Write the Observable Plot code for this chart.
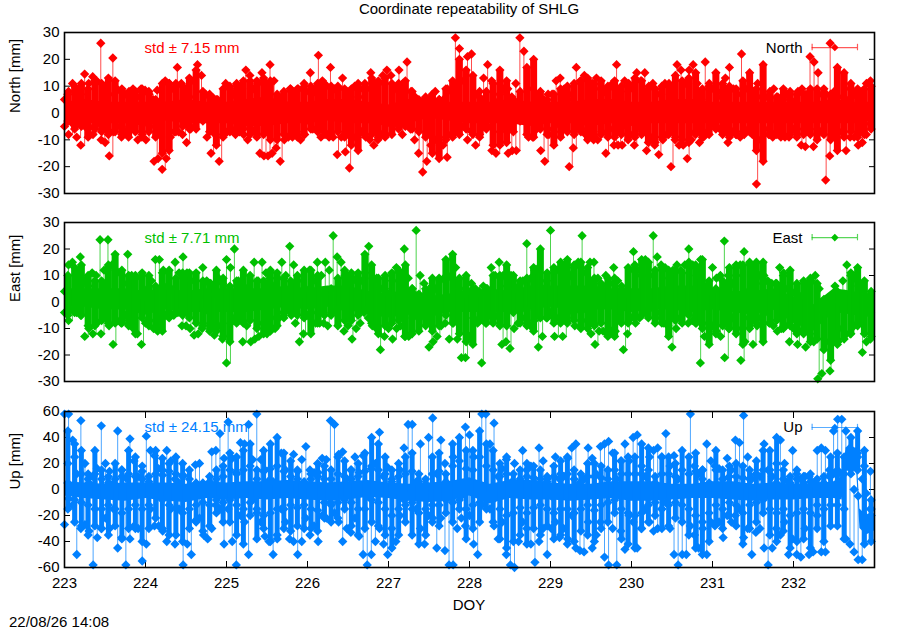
<!DOCTYPE html>
<html><head><meta charset="utf-8">
<script src="https://cdn.jsdelivr.net/npm/d3@7"></script>
<script src="https://cdn.jsdelivr.net/npm/@observablehq/plot@0.6"></script>
<style>
html,body{margin:0;padding:0;background:#fff}
#page{position:relative;width:900px;height:630px;font-family:"Liberation Sans",sans-serif;color:#000;overflow:hidden}
#page svg{position:absolute;left:0;background:transparent;font-family:"Liberation Sans",sans-serif}
.t{position:absolute;font-size:15px;line-height:16px;white-space:nowrap}
</style></head><body>
<div id="page">
<div class="t" style="left:0;width:938px;top:1px;text-align:center">Coordinate repeatability of SHLG</div>
<div class="t" style="left:0;width:938px;top:597px;text-align:center">DOY</div>
<div class="t" style="left:9px;top:614px">22/08/26 14:08</div>
</div>
<script>
const northHi=[5,8,11,9,7,14.5,11,13.5,12,26,10,7,20.5,9,8,7,8,9,6,9,8.5,7,5,8.5,4,12,11,9,17,11,9,6,12,18,14,7,7,5.5,5,4,11,9,7,8,9,16,14,9,11,15,11,18,12,6,5,3,9,7,9,9,8,15,8,21.5,12,10,17,9,9,13,8,3,10,6,9,9,15,11,11,14,16,14,9,16,11,19,8,6,3,3,5,6,8,5,5,9,8,28,24,12,21,
22,7,8,13,18,12,4,7,9,9,6,11,28,23,9,3,5,6,5,7,7,12,13,9,5,7,17,12,14,12,11,13,9,8,9,11,18,8,12,11,9,15,12,15,10,11,7,7,11,11,10,18,16,11,16,18,11,5,19,11,9,8,6,13,17,9,7,22,9,1,8,11,6,6,6,9,6,6,7,5,4,8,9,7,21,19,15,7,7,26,8,6,3,5,9,7,6,8,11,12];
const northLo=[-5,-8,-4,-9,-12,-5,-5,-8,-4,-10,-11,-16,-7,-5,-9,-7,-5,-5,-10,-9,-10,-5,-18,-17,-21,-17,-9,-7,-7,-8,-11,-6,-5,-2,-3,-9,-15,-8,-18,-8,-7,-6,-8,-7,-8,-10,-7,-6,-15,-16,-16,-15,-13,-18,-10,-9,-9,-7,-10,-8,-3,-6,-6,-9,-8,-9,-9,-15.5,-9,-14.5,-20.5,-9,-9,-7,-9,-10,-12,-10,-8,-8,-4,-4,-3,-8,-4,-6,-10,-15,-22,-18,-12,-10,-9,-12,-16.5,-8,-3,-3,-5,-10,
-7,-12,-8,-5,-5,-14,-15,-7,-5,-15,-14,-14,-1,-1,-9,-9,-6,-14,-18,-8,-6,-4,-7,-6,-20,-13,-5,-6,-8,-4,-10,-10,-7,-15,-6,-12,-12,-12,-5,-8,-12,-5,-7,-14,-9,-12,-15.5,-10,-8,-20,-10,-12,-12,-17,-10,-7,-11,-9,-7,-4,-5,-6,-6,-11,-7,-8,-9,-8,-6,-8,-26.5,-10,-6,-8,-9,-8,-9,-9,-9,-6,-6,-12,-12.5,-6,-12.5,-6,-7,-25,-16,-8,-7,-7,-14,-9,-9,-12,-11,-8,-4];
const northUpper=[7,10,11,9,12,11,13,12,9,7,8,9, 8,5,11,11,11,10,13,16,8,6,5,9, 10,11,12,12,12,13,12,7,8,9,9,11, 10,11,11,10,10,9,9,11,11,13,12,13, 11,11,12,8,5,6,7,5,9,12,20,16, 14,6,8,11,16,12,5,8,17,20,8,5, 7,9,10,11,12,13,11,12,10,12,10,10, 13,12,9,9,10,10,14,12,13,15,9,10, 15,11,10,9,12,15,9,18,8,6,9,8, 7,7,9,9,9,7,17,15,11,9,9,10];
const northLower=[-3,-6,-5,-9,-6,-7,-8,-7,-8,-9,-7,-8, -7,-9,-15,-14,-7,-5,-6,-6,-2,-7,-12,-9, -7,-6,-6,-8,-9,-8,-10,-10,-8,-8,-9,-8, -6,-7,-7,-8,-7,-9,-12,-14,-8,-8,-9,-9, -8,-6,-5,-6,-7,-9,-15,-17,-10,-9,-8,-6, -8,-9,-6,-12,-12,-11,-7,-3,-8,-9,-6,-8, -12,-9,-7,-8,-7,-10,-9,-8,-9,-9,-8,-10, -9,-8,-11,-11,-9,-8,-9,-10,-11,-8,-9,-8, -6,-8,-9,-8,-7,-7,-14,-18,-8,-7,-8,-8, -9,-8,-8,-10,-8,-10,-14,-9,-7,-9,-8,-6];
const northCoreHi=[4,5,4,4,4,4,5,4,4,5,6,4,4,5,5,4,3,5,6,4,4,4,5,4,4,4,5,5,4,4,5,5,4,4,4,4,4,4,5,4,4];
const northCoreLo=[-3,-4,-4,-4,-5,-3,-4,-4,-4,-5,-5,-4,-4,-3,-4,-4,-5,-4,-2,-3,-4,-4,-4,-5,-4,-4,-5,-4,-5,-4,-4,-4,-4,-4,-4,-4,-4,-4,-4,-4,-3];

const eastHi=[4,14,15,10,17,8,6,11,10,23.5,12,23.5,14,12,11,7,18,10,9,3,2,5,8,16,16,12,6,5,15,11,17,11,8,8,2,13,8,7,3,9,7,16,13,20,8,6,5,3,15,8,15,11,9,6,9,15,10,21,14,8,3,5,12,8,15,10,15,12,25,17,15,10,7,8,9,8,11,21,9,9,5,5,3,8,13,10,20,9,5,27,10,7,4,6,5,8,9,10,9,13,5,3,
4,7,5,4,6,5,13,10,15,10,6,10,5,6,8,22,9,12,13,5,8,27,12,12,12,9,10,13,15,25,11,15,15,9,6,10,7,13,8,6,3,12,19,12,10,16,10,25,17,14,13,9,12,14,12,14,20,14,10,16,6,4,13,9,10,23,10,7,10,14,19,4,5,7,10,10,8,7,7,13,11,5,4,3,2,3,7,8,10,5,-4,-2,0,6,0,8,14,10,9,6,5,2,-4];
const eastLo=[-4,-7,-3,-4,-5,-13,-10,-12,-8,-12,-5,-9,-16,-7,-8,-5,-7,-10,-12,-16,-8,-7,-10,-11,-6,-5,-4,-5,-4,-9,-9,-10,-12.5,-12,-10,-3,-8,-12.5,-9,-14,-23,-8,-6,-5,-15,-9,-15,-14,-13,-8,-12,-6,-10,-6,-4,-3,-5,-8,-15,-12,-5,-4,-8,-8,-8,-9,-4,-3,-2,-11,-9,-14,-10,-8,-4,-6,-9,-10,-18,-13,-10,-14,-10,-9,-13,-13,-6,-5,-3,-6,-17,-15,-13,-9,-8,-14,-8,-14,-21,
-21,-13,-6,-8,-23,-8,-5,-6,-5,-16,-15,-17.5,-10,-8,-6,-3,-9,-7,-17,-13,-6,-4,-13,-6,-13,-6,-3,-9,-3,-3,-7,-12,-16,-11,-11,-12,-11,-11,-6,-18,-12,-6,-8,-6,-4,-3,-2,-6,-4,-8,-9,-17,-10,-6,-4,-8,-7,-8,-23,-13,-8,-9,-11,-13,-21,-10,-6,-10,-22,-15,-6,-16,-9,-6,-4,-8,-9,-11,-10,-9,-15,-10,-16,-11,-17,-12,-15,-29,-27,-15,-26,-12,-15,-10,-12,-12,-9,-8,-19,-15,-14];
const eastUpper=[10,13,14,10,8,8,14,18,12,10,10,11, 10,6,11,12,9,11,11,11,8,7,12,9, 6,8,12,10,8,8,12,11,9,8,10,12, 12,10,3,5,9,12,11,11,18,14,9,10, 11,12,14,5,3,5,9,9,16,18,9,10, 5,3,5,10,10,14,10,8,9,13,20,11, 13,15,16,14,15,13,9,7,9,9,5,13, 14,16,15,12,13,12,12,11,15,14,16,8, 5,8,13,14,14,15,15,15,7,7,10,12, 7,8,9,7,1,-3,4,3,11,13,8,4];
const eastLower=[-5,-4,-5,-9,-9,-7,-8,-8,-8,-9,-12,-6, -9,-10,-11,-6,-4,-5,-6,-8,-9,-11,-11,-13, -15,-8,-8,-7,-10,-12,-11,-9,-6,-4,-5,-6, -12,-8,-5,-5,-9,-7,-7,-5,-3,-8,-12,-9, -8,-7,-13,-12,-11,-9,-11,-9,-5,-8,-12,-15, -16,-7,-8,-8,-9,-9,-4,-8,-9,-11,-6,-6, -8,-8,-8,-7,-10,-10,-9,-8,-13,-13,-8,-8, -6,-5,-6,-8,-8,-13,-7,-8,-5,-8,-10,-16, -12,-9,-10,-12,-16,-10,-8,-15,-8,-7,-10,-9, -12,-12,-15,-14,-18,-22,-16,-14,-12,-9,-12,-13];
const eastCoreHi=[5,5,5,5,4,5,4,5,5,5,5,6,5,6,6,4,3,5,2,3,4,5,4,6,6,6,6,5,5,5,6,6,5,4,4,5,2,-1,5,4,-1];
const eastCoreLo=[-2,-2,-3,-3,-5,-3,-4,-4,-4,-4,-3,-2,-3,-2,-3,-5,-6,-5,-6,-4,-4,-4,-4,-3,-2,-3,-3,-3,-4,-3,-3,-4,-3,-4,-5,-3,-8,-11,-4,-5,-6];

const upHi=[58,58,38,12,53,20,5,10,16,49,20,14,5,45,15,9,39,22,10,18,41,30,26,16,11,30,22,8,5,11,-5,-3,19,20,-2,0,29,30,43,24,52,24,13,36,35,50,23,58,23,15,7,6,4,28,15,5,27,14,23,33,15,13,13,24,23,53,50,27,29,8,15,25,13,26,-5,16,20,44,10,17,6,0,15,32,50,50,6,35,-2,40,55,12,38,20,1,25,2,-5,
48,42,25,0,58,58,35,51,10,16,23,5,20,0,30,15,18,5,32,22,8,-5,25,8,10,24,32,35,5,8,32,24,12,33,35,37,28,8,22,35,22,40,42,12,10,25,30,32,25,43,18,26,8,-5,-2,58,18,12,15,35,22,18,16,8,24,15,38,36,57,25,8,12,10,35,15,10,5,38,20,6,30,12,8,10,10,5,30,32,30,15,45,54,54,45,32,0,-5,8,-3,14];
const upLo=[-27,-7,-12,-50,-30,-27,-32,-58,-37,-30,-22,-30,-15,-45,-37,-58,-38,-28,-30,-55,-42,-15,-28,-28,-32,-40,-15,-42,-15,-58,-42,-50,-24,-22,-35,-38,-30,-12,-15,-42,-15,-40,-58,-20,-25,-50,-8,-15,-25,-36,-40,-50,-38,-15,-25,-38,-40,-50,-40,-22,-35,-28,-40,-20,-22,-10,-18,-25,-40,-30,-33,-22,-36,-50,-58,-50,-40,-30,-42,-50,-30,-40,-20,-8,-5,-10,-15,-30,-42,-20,-22,-45,-22,-47,-58,-58,-30,-22,
-28,-20,-42,-50,-12,-8,-15,-28,-38,-25,-50,-58,-60,-40,-25,-30,-42,-56,-40,-30,-50,-30,-25,-37,-30,-38,-20,-45,-47,-48,-25,-45,-35,-25,-52,-58,-30,-58,-32,-46,-20,-25,-45,-30,-15,-25,-32,-30,-15,-10,-30,-50,-58,-50,-50,-28,-35,-45,-30,-50,-25,-28,-25,-37,-20,-25,-20,-15,-37,-30,-50,-33,-30,-45,-58,-45,-30,-35,-25,-50,-38,-50,-52,-30,-50,-48,-20,-48,-48,10,12,12,12,-38,-42,-48,-54,-54,-28,-15];
const upRingA=[45,35,30,12,30,15,10,20,15,30,25,14, 10,30,24,20,25,20,15,5,5,10,15,18, 28,25,30,35,15,30,35,40,28,22,15,6, 12,20,18,15,25,22,15,20,28,40,35,25, 15,20,25,28,12,8,25,28,12,35,40,30, 30,45,35,30,20,25,12,15,20,18,15,10, 18,22,25,15,12,20,20,18,15,28,22,25, 25,35,32,10,25,25,20,30,25,28,15,5, 30,15,18,20,18,15,22,30,30,40,15,10, 15,10,12,8,10,25,28,25,40,45,30,-8];
const upRingB=[20,25,12,8,12,8,5,8,10,12,10,8, 6,12,15,14,12,10,8,2,2,6,8,10, 15,12,15,18,8,14,16,18,14,10,8,3, 8,10,8,8,12,10,8,10,14,18,15,12, 8,10,12,14,6,4,12,14,6,18,22,16, 15,25,18,15,10,12,6,8,10,9,8,6, 10,12,12,8,6,10,10,9,8,15,12,12, 12,18,15,5,12,12,10,15,12,14,8,2, 15,8,10,10,9,8,11,15,15,20,8,5, 8,5,6,4,5,12,15,12,25,28,18,-15];
const upRingC=[5,-8,-10,-12,-15,-15,-12,-15,-18,-15,-12,-15, -12,-5,-8,-12,-14,-18,-15,-12,-10,-12,-8,-10, -8,-12,-15,-10,-18,-20,-18,-15,-15,-12,-14,-12, -15,-16,-10,-12,-10,-8,-10,-15,-15,-8,-10,-15, -20,-15,-12,-15,-18,-15,-12,-12,-8,-10,-8,-15, -12,-10,-5,-8,-15,-20,-18,-14,-18,-14,-12,-15, -18,-15,-15,-18,-15,-12,-16,-12,-10,-8,-15,-18, -20,-18,-12,-10,-15,-12,-10,-12,-15,-20,-25,-18, -12,-15,-10,-12,-18,-12,-10,-8,-15,-18,-15,-20, -18,-15,-18,-12,-15,-12,-12,-15,12,15,-20,-20];
const upRingD=[-15,-25,-28,-35,-28,-30,-35,-28,-38,-30,-30,-40, -30,-22,-30,-35,-35,-40,-30,-25,-32,-28,-18,-25, -25,-35,-42,-20,-38,-30,-40,-35,-30,-32,-28,-30, -30,-32,-22,-25,-22,-15,-28,-35,-30,-25,-28,-35, -45,-35,-25,-35,-42,-35,-25,-28,-18,-25,-15,-38, -30,-25,-15,-25,-38,-45,-40,-35,-42,-30,-35,-28, -38,-35,-42,-40,-32,-35,-40,-30,-25,-18,-38,-42, -45,-30,-25,-20,-30,-28,-22,-25,-35,-45,-50,-40, -25,-30,-20,-28,-42,-30,-25,-18,-35,-40,-32,-45, -40,-38,-45,-30,-40,-28,-28,-38,22,25,-42,-40];
const upCoreDoy=[223,223.25,223.5,223.75,224,224.25,224.5,224.75,225,225.25,225.5,225.75,226,226.25,226.5,226.75,227,227.25,227.5,227.75,228,228.25,228.5,228.75,229,229.25,229.5,229.75,230,230.25,230.5,230.75,231,231.25,231.5,231.75,232,232.25,232.5,232.6,232.65,232.78,232.82,232.9,233];
const upCoreHi=[6,5,4,5,5,5,4,6,5,6,6,7,6,5,6,7,5,4,5,6,9,4,7,7,5,4,4,6,6,6,4,4,6,6,4,5,4,4,6,10,32,32,-15,-20,-22];
const upCoreLo=[-5,-7,-8,-9,-7,-9,-10,-7,-8,-7,-8,-7,-8,-9,-8,-6,-7,-9,-10,-9,-5,-11,-7,-8,-8,-9,-8,-7,-9,-9,-8,-7,-7,-8,-9,-8,-8,-7,-7,-8,14,14,-30,-35,-32];

const xTicks=[223,224,225,226,227,228,229,230,231,232];
const ticks30=[-30,-20,-10,0,10,20,30];
const ticks60=[-60,-40,-20,0,20,40,60];
const keyDoy=[232.23,232.79];
const keyMid=[232.51];
const R=4.2;

function panel({top,h,bottom,dom,ticks,label,color,hi,lo,rings,stem,coreDoy,coreHi,coreLo,std,name,keyY,capH,symbol,showX,textDy}){
  const cx=coreDoy||coreHi.map((_,i)=>223+i*0.25);
  const core=cx.map((d,i)=>({x:d,a:coreLo[i],b:coreHi[i]}));
  const rows=hi.map((v,i)=>({x:223+i*10/hi.length,y:v,o:lo[Math.floor(i*lo.length/hi.length)]}));
  const lows=lo.map((v,i)=>({x:223+i*10/lo.length,y:v}));
  const ringRows=[];
  rings.forEach((r,k)=>r.forEach((v,i)=>ringRows.push({x:223+(i+.5)/12,y:v,o:rings[Math.min(k+1,rings.length-1)][i]})));
  const marks=[
    Plot.text([std],{frameAnchor:"top-left",dx:80,dy:textDy,textAnchor:"start",fill:color,fontSize:15,lineAnchor:"top"}),
    Plot.text([name],{frameAnchor:"top-right",dx:-72,dy:textDy,textAnchor:"end",fill:"#000",fontSize:15,lineAnchor:"top"}),
    Plot.ruleY([keyY],{x1:keyDoy[0],x2:keyDoy[1],stroke:color,strokeOpacity:.65,strokeWidth:1.2}),
    Plot.ruleX(keyDoy,{y1:keyY-capH,y2:keyY+capH,stroke:color,strokeOpacity:.65,strokeWidth:1.2}),
    Plot.axisY({ticks,anchor:"left",tickSize:-6,tickPadding:11,fontSize:15,label:null,tickFormat:d=>String(d)}),
    Plot.axisY({ticks,anchor:"right",tickSize:-6,tickFormat:()=>"",label:null})
  ];
  if(showX){
    marks.push(
      Plot.axisX({ticks:xTicks,anchor:"bottom",tickSize:-6,tickPadding:16,fontSize:15,label:null,tickFormat:d=>String(d)}),
      Plot.axisX({ticks:xTicks,anchor:"top",tickSize:-6,tickFormat:()=>"",label:null}));
  }
  marks.push(
    Plot.dot(keyMid,{x:d=>d,y:()=>keyY,r:3.4,symbol,fill:color}),
    Plot.areaY(core,{x:"x",y1:"a",y2:"b",fill:color}),
    Plot.ruleX(ringRows,{x:"x",y1:"y",y2:"o",stroke:color,strokeWidth:stem}),
    Plot.ruleX(rows,{x:"x",y1:"y",y2:"o",stroke:color,strokeOpacity:.7,strokeWidth:1}),
    Plot.dot(ringRows,{x:"x",y:"y",r:R,symbol,fill:color}),
    Plot.dot(rows,{x:"x",y:"y",r:R,symbol,fill:color}),
    Plot.dot(lows,{x:"x",y:"y",r:R,symbol,fill:color}),
    Plot.text([label],{frameAnchor:"left",dx:-49,rotate:-90,fontSize:15,fill:"#000"}),
    Plot.frame({stroke:"#000",strokeWidth:1.6})
  );
  const p=Plot.plot({width:900,height:h+bottom+10,marginTop:10,marginBottom:bottom,marginLeft:64,marginRight:26,
    style:{background:"transparent",overflow:"visible",fontFamily:"Liberation Sans"},
    x:{domain:[223,233],axis:null},y:{domain:dom,axis:null},marks});
  p.style.top=(top-10)+"px";
  document.getElementById("page").appendChild(p);
}
panel({top:32,h:161,bottom:10,dom:[-30,30],ticks:ticks30,label:"North [mm]",color:"#ff0000",hi:northHi,lo:northLo,rings:[northUpper,northLower],stem:7,coreHi:northCoreHi,coreLo:northCoreLo,std:"std ± 7.15 mm",name:"North",keyY:24.4,capH:1.2,symbol:"diamond2",textDy:10});
panel({top:222,h:159,bottom:10,dom:[-30,30],ticks:ticks30,label:"East [mm]",color:"#00c000",hi:eastHi,lo:eastLo,rings:[eastUpper,eastLower],stem:7,coreHi:eastCoreHi,coreLo:eastCoreLo,std:"std ± 7.71 mm",name:"East",keyY:24.3,capH:1.2,symbol:"diamond2",textDy:10});
panel({top:411,h:156,bottom:30,dom:[-60,60],ticks:ticks60,label:"Up [mm]",color:"#0080ff",hi:upHi,lo:upLo,rings:[upRingA,upRingB,upRingC,upRingD],stem:5,coreDoy:upCoreDoy,coreHi:upCoreHi,coreLo:upCoreLo,std:"std ± 24.15 mm",name:"Up",keyY:47.7,capH:2.4,symbol:"diamond2",showX:true,textDy:10});
</script>
</body></html>
